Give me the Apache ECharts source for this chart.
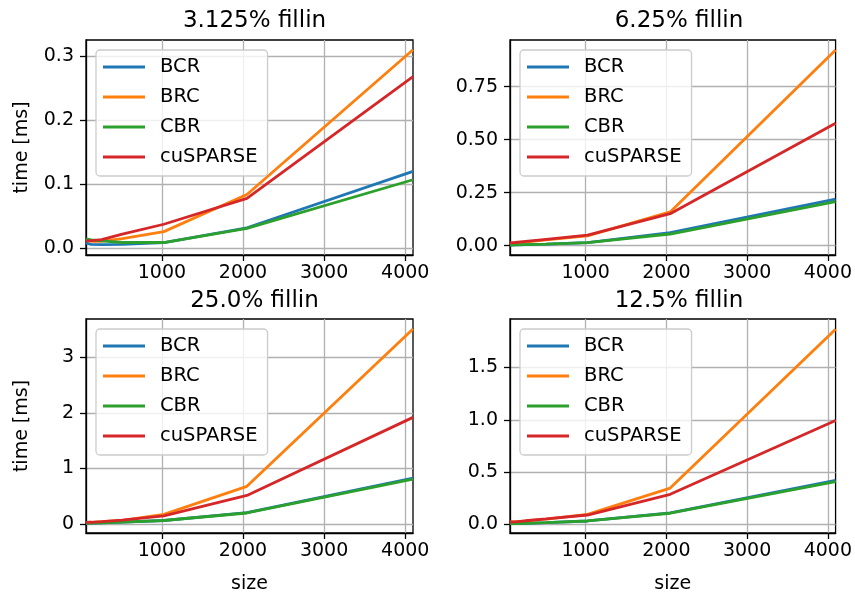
<!DOCTYPE html>
<html>
<head>
<meta charset="utf-8">
<script src="https://cdn.jsdelivr.net/npm/echarts@6/dist/echarts.min.js"></script>
<style>
html,body{margin:0;padding:0;background:#fff;}
#chart{width:855px;height:595px;}
</style>
</head>
<body>
<div id="chart"></div>
<script>
// ---- data ----
var sizes = [64, 128, 256, 512, 1024, 2048, 4096];
var seriesNames = ['BCR', 'BRC', 'CBR', 'cuSPARSE'];
var panelTitles = ['3.125% fillin', '6.25% fillin', '25.0% fillin', '12.5% fillin'];

// 3.125% fillin
var bcr_3125  = [0.008, 0.006, 0.0057, 0.006, 0.009, 0.032, 0.120];
var brc_3125  = [0.012, 0.011, 0.011, 0.015, 0.026, 0.084, 0.310];
var cbr_3125  = [0.0146, 0.013, 0.0115, 0.009, 0.009, 0.031, 0.107];
var cus_3125  = [0.0115, 0.012, 0.0135, 0.022, 0.0375, 0.078, 0.268];
// 6.25% fillin
var bcr_625   = [0.003, 0.004, 0.005, 0.007, 0.014, 0.061, 0.219];
var brc_625   = [0.012, 0.013, 0.017, 0.027, 0.046, 0.159, 0.923];
var cbr_625   = [0.003, 0.004, 0.005, 0.007, 0.014, 0.055, 0.208];
var cus_625   = [0.013, 0.015, 0.020, 0.030, 0.050, 0.151, 0.577];
// 25.0% fillin
var bcr_25    = [0.015, 0.018, 0.024, 0.035, 0.065, 0.205, 0.826];
var brc_25    = [0.030, 0.033, 0.045, 0.068, 0.174, 0.680, 3.51];
var cbr_25    = [0.015, 0.018, 0.024, 0.035, 0.065, 0.200, 0.810];
var cus_25    = [0.030, 0.033, 0.045, 0.070, 0.150, 0.515, 1.92];
// 12.5% fillin
var bcr_125   = [0.006, 0.007, 0.010, 0.016, 0.032, 0.110, 0.420];
var brc_125   = [0.022, 0.024, 0.032, 0.050, 0.095, 0.347, 1.866];
var cbr_125   = [0.006, 0.007, 0.010, 0.016, 0.032, 0.106, 0.408];
var cus_125   = [0.022, 0.024, 0.034, 0.052, 0.089, 0.287, 0.994];

// y ticks per panel
var yTicks = [
  [0, 0.1, 0.2, 0.3],
  [0, 0.25, 0.5, 0.75],
  [0, 1, 2, 3],
  [0, 0.5, 1.0, 1.5]
];
var yDecimals = [1, 2, 0, 1];
var yRanges = [[-0.0105, 0.3252], [-0.044, 0.97], [-0.16, 3.69], [-0.083, 1.964]];
var xTicks = [1000, 2000, 3000, 4000];

var panelData = [
  [bcr_3125, brc_3125, cbr_3125, cus_3125],
  [bcr_625, brc_625, cbr_625, cus_625],
  [bcr_25, brc_25, cbr_25, cus_25],
  [bcr_125, brc_125, cbr_125, cus_125]
];
var colors = ['#1f77b4', '#ff7f0e', '#2ca02c', '#d62728'];

// ---- layout ----
var grids = [
  {left: 86, top: 40, width: 327, height: 215},
  {left: 510, top: 40, width: 328, height: 215},
  {left: 86, top: 319, width: 327, height: 214},
  {left: 510, top: 319, width: 328, height: 214}
];
var FONT = 'DejaVu Sans';
var TXT = '#000000';

var option = {
  animation: false,
  backgroundColor: '#ffffff',
  color: colors,
  textStyle: {fontFamily: FONT},
  grid: grids.map(function (g) {
    return {left: g.left, top: g.top, width: g.width, height: g.height,
      show: true, borderColor: '#000', borderWidth: 1.3, backgroundColor: 'transparent', containLabel: false};
  }),
  title: [],
  legend: [],
  xAxis: [],
  yAxis: [],
  series: []
};

for (var p = 0; p < 4; p++) {
  var g = grids[p];
  option.title.push({
    text: panelTitles[p],
    left: g.left + g.width / 2, top: (p < 2 ? 5 : 285),
    textAlign: 'center',
    textStyle: {fontFamily: FONT, fontSize: 23, fontWeight: 'normal', color: TXT}
  });
  option.legend.push({
    data: seriesNames,
    orient: 'vertical',
    left: g.left + 10, top: g.top + 10,
    icon: 'rect', itemWidth: 42, itemHeight: 3, itemGap: 10,
    padding: [7, 10, 9, 7],
    backgroundColor: 'rgba(255,255,255,0.8)',
    borderColor: '#cccccc', borderWidth: 1.3, borderRadius: 4,
    textStyle: {fontFamily: FONT, fontSize: 19.5, color: TXT, lineHeight: 20, padding: [0, 0, 0, 10]},
    selectedMode: false
  });
  var dec = yDecimals[p];
  option.xAxis.push({
    type: 'value', gridIndex: p, min: 64, max: 4096,
    axisLine: {show: true, onZero: false, lineStyle: {color: '#000', width: 1.3}},
    axisTick: {show: true, length: 6, customValues: xTicks, lineStyle: {color: '#000', width: 1.3}},
    axisLabel: {show: true, customValues: xTicks, margin: 9, fontFamily: FONT, fontSize: 19, color: TXT,
      formatter: function (v) { return String(Math.round(v)); }},
    splitLine: {show: true, lineStyle: {color: '#b0b0b0', width: 1.3}},
    name: p >= 2 ? 'size' : '',
    nameLocation: 'middle', nameGap: 42,
    nameTextStyle: {fontFamily: FONT, fontSize: 19, color: TXT}
  });
  option.yAxis.push({
    type: 'value', gridIndex: p, min: yRanges[p][0], max: yRanges[p][1],
    axisLine: {show: true, onZero: false, lineStyle: {color: '#000', width: 1.3}},
    axisTick: {show: true, length: 6, customValues: yTicks[p], lineStyle: {color: '#000', width: 1.3}},
    axisLabel: {show: true, customValues: yTicks[p], margin: 12, fontFamily: FONT, fontSize: 19, color: TXT,
      formatter: (function (d) { return function (v) { return Number(v).toFixed(d); }; })(dec)},
    splitLine: {show: true, lineStyle: {color: '#b0b0b0', width: 1.3}},
    name: (p === 0 || p === 2) ? 'time [ms]' : '',
    nameLocation: 'middle', nameGap: 54, nameRotate: 90,
    nameTextStyle: {fontFamily: FONT, fontSize: 19, color: TXT}
  });
  for (var s = 0; s < 4; s++) {
    var vals = panelData[p][s];
    var pts = sizes.map(function (x, i) { return [x, vals[i]]; });
    option.series.push({
      name: seriesNames[s], type: 'line', xAxisIndex: p, yAxisIndex: p,
      data: pts, symbol: 'none', smooth: false,
      lineStyle: {width: 2.8, color: colors[s]},
      itemStyle: {color: colors[s]},
      z: 2 + s
    });
  }
}

var chart = echarts.init(document.getElementById('chart'), null, {renderer: 'canvas'});
chart.setOption(option);
</script>
</body>
</html>
